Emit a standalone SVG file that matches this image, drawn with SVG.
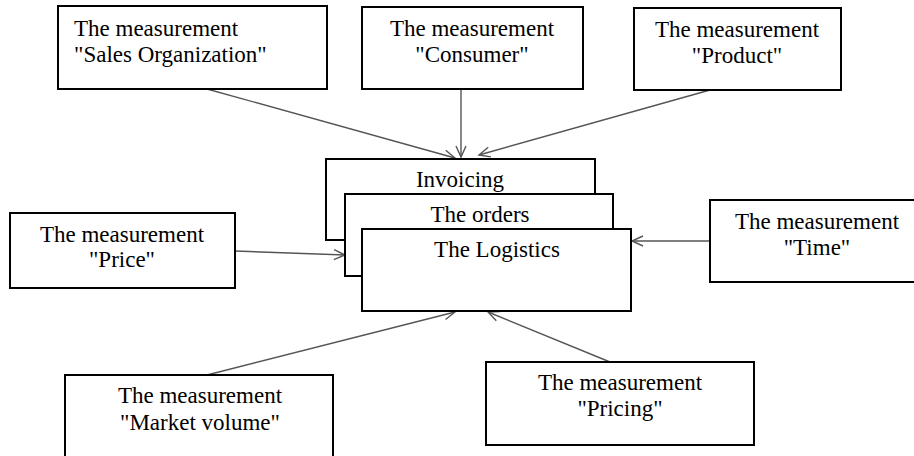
<svg xmlns="http://www.w3.org/2000/svg" width="914" height="456" viewBox="0 0 914 456">
<style>
.box{fill:#fff;stroke:#000;stroke-width:2}
.t{font-family:"Liberation Serif","Times New Roman",serif;font-size:23px;fill:#000}
.c{text-anchor:middle}
.conn{stroke:#555;stroke-width:1.4;fill:none;marker-end:url(#arr)}
</style>
<defs>
<marker id="arr" viewBox="-12 -7 14 14" markerWidth="14" markerHeight="14" refX="0" refY="0" orient="auto" markerUnits="userSpaceOnUse">
<path d="M-11,-5 L0,0 L-11,5" fill="none" stroke="#555" stroke-width="1.4"/>
</marker>
</defs>
<rect width="914" height="456" fill="#fff"/>
<g id="connectors">
<line class="conn" x1="207" y1="89" x2="455" y2="158"/>
<line class="conn" x1="461" y1="89" x2="461" y2="157"/>
<line class="conn" x1="710" y1="90" x2="479" y2="155"/>
<line class="conn" x1="235" y1="251" x2="345" y2="255"/>
<line class="conn" x1="710" y1="241" x2="632" y2="241"/>
<line class="conn" x1="207" y1="375" x2="455" y2="312"/>
<line class="conn" x1="610" y1="362" x2="488" y2="312"/>
</g>
<g id="invoicing">
<rect class="box" x="326" y="159" width="269" height="81"/>
<text class="t c" x="460" y="187">Invoicing</text>
</g>
<g id="orders">
<rect class="box" x="345" y="194" width="268" height="82"/>
<text class="t c" x="480" y="222">The orders</text>
</g>
<g id="logistics">
<rect class="box" x="362" y="229" width="269" height="82"/>
<text class="t c" x="497" y="257">The Logistics</text>
</g>
<g id="sales-org">
<rect class="box" x="58" y="6" width="269" height="83"/>
<text class="t" x="74" y="36">The measurement</text>
<text class="t" x="74" y="62">"Sales Organization"</text>
</g>
<g id="consumer">
<rect class="box" x="362" y="7" width="221" height="82"/>
<text class="t c" x="472" y="36">The measurement</text>
<text class="t c" x="472" y="62">"Consumer"</text>
</g>
<g id="product">
<rect class="box" x="634" y="8" width="207" height="82"/>
<text class="t c" x="737" y="37">The measurement</text>
<text class="t c" x="737" y="63">"Product"</text>
</g>
<g id="price">
<rect class="box" x="10" y="213" width="225" height="75"/>
<text class="t c" x="122" y="242">The measurement</text>
<text class="t c" x="122" y="267">"Price"</text>
</g>
<g id="time">
<rect class="box" x="710" y="200" width="210" height="82"/>
<text class="t c" x="817" y="229">The measurement</text>
<text class="t c" x="817" y="255">"Time"</text>
</g>
<g id="market-volume">
<rect class="box" x="65" y="375" width="268" height="90"/>
<text class="t c" x="200" y="403">The measurement</text>
<text class="t c" x="200" y="430">"Market volume"</text>
</g>
<g id="pricing">
<rect class="box" x="486" y="362" width="268" height="83"/>
<text class="t c" x="620" y="390">The measurement</text>
<text class="t c" x="620" y="416">"Pricing"</text>
</g>
</svg>
